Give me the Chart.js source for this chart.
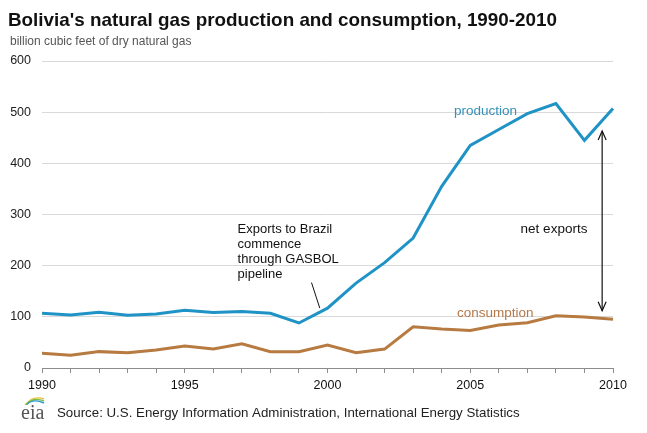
<!DOCTYPE html>
<html>
<head>
<meta charset="utf-8">
<script src="https://cdn.jsdelivr.net/npm/chart.js@4.4.1/dist/chart.umd.min.js"></script>
<style>
  html, body { margin: 0; padding: 0; background: #fff; }
  #wrap { width: 647px; height: 433px; position: relative; }
</style>
</head>
<body>
<div id="wrap"><canvas id="gasChart"></canvas></div>
<script>
// Chart data
const years = [1990, 1991, 1992, 1993, 1994, 1995, 1996, 1997, 1998, 1999, 2000,
               2001, 2002, 2003, 2004, 2005, 2006, 2007, 2008, 2009, 2010];
const production = [107, 103.5, 109, 103, 105.5, 113, 108.5, 110.5, 107, 88, 117,
                    166, 206, 254, 355, 435, 466, 497, 517, 445, 507];
const consumption = [29, 25, 32, 30, 35, 43, 37, 47.5, 32, 32, 45,
                     30, 37, 80.5, 76, 73.5, 84, 88.5, 102, 99.5, 95.5];
const yTicks = [0, 100, 200, 300, 400, 500, 600];

const FONT = '"Liberation Sans", Arial, sans-serif';

// pixel for a fractional year, through the category scale
function xAt(scale, year) {
    const i = year - years[0];
    const a = Math.floor(i), b = Math.min(a + 1, years.length - 1);
    const pa = scale.getPixelForValue(a), pb = scale.getPixelForValue(b);
    return pa + (pb - pa) * (i - a);
}

function arrowHead(ctx, x, y, dir) {
    ctx.beginPath();
    ctx.moveTo(x - 4, y + dir * 9);
    ctx.lineTo(x, y);
    ctx.lineTo(x + 4, y + dir * 9);
    ctx.stroke();
}

const annotations = {
    id: 'annotations',
    afterDraw(chart) {
        const ctx = chart.ctx;
        const xs = chart.scales.x, ys = chart.scales.y;
        ctx.save();

        // title + subtitle
        ctx.textBaseline = 'alphabetic';
        ctx.textAlign = 'left';
        ctx.fillStyle = '#111';
        ctx.font = 'bold 19px ' + FONT;
        const title = "Bolivia's natural gas production and consumption, 1990-2010";
        const w = ctx.measureText(title).width;
        ctx.save();
        ctx.translate(8, 26);
        ctx.scale(Math.min(1, 549 / w), 1);
        ctx.fillText(title, 0, 0);
        ctx.restore();
        ctx.fillStyle = '#555';
        ctx.font = '12px ' + FONT;
        ctx.fillText('billion cubic feet of dry natural gas', 10, 45);

        // series labels
        ctx.font = '13.5px ' + FONT;
        ctx.textBaseline = 'middle';
        ctx.fillStyle = '#3690b8';
        ctx.fillText('production', 454, 111);
        ctx.fillStyle = '#b5794a';
        ctx.fillText('consumption', 457, 313);

        // exports note
        ctx.fillStyle = '#111';
        ctx.font = '13px ' + FONT;
        const noteX = xAt(xs, 1996.85);
        const noteY = ys.getPixelForValue(270);
        ['Exports to Brazil', 'commence', 'through GASBOL', 'pipeline'].forEach((t, i) => {
            ctx.fillText(t, noteX, noteY + i * 15);
        });
        ctx.strokeStyle = '#111';
        ctx.lineWidth = 1;
        ctx.beginPath();
        ctx.moveTo(xAt(xs, 1999.44), ys.getPixelForValue(167));
        ctx.lineTo(xAt(xs, 1999.73), ys.getPixelForValue(117));
        ctx.stroke();

        // net exports arrow
        const ax = xAt(xs, 2009.62);
        const top = ys.getPixelForValue(463), bot = ys.getPixelForValue(112);
        ctx.lineWidth = 1.2;
        ctx.beginPath();
        ctx.moveTo(ax, top);
        ctx.lineTo(ax, bot);
        ctx.stroke();
        arrowHead(ctx, ax, top, 1);
        arrowHead(ctx, ax, bot, -1);
        ctx.textAlign = 'center';
        ctx.font = '13.5px ' + FONT;
        ctx.fillText('net exports', 554, 229);

        // source line with eia mark
        ctx.textAlign = 'left';
        ctx.font = '13.3px ' + FONT;
        ctx.fillStyle = '#222';
        ctx.fillText('Source: U.S. Energy Information Administration, International Energy Statistics', 57, 413);
        ctx.font = '20px "Liberation Serif", "DejaVu Serif", serif';
        ctx.fillStyle = '#555';
        ctx.textBaseline = 'alphabetic';
        ctx.fillText('eia', 21, 419);
        const arcs = ['#e8c33a', '#7cbf4a', '#2a9ad0'];
        ctx.lineWidth = 1.4;
        arcs.forEach((c, i) => {
            ctx.strokeStyle = c;
            ctx.beginPath();
            ctx.moveTo(25 + i, 405 - i * 0.3);
            ctx.quadraticCurveTo(33, 395 + i * 1.6, 44, 399 + i * 2);
            ctx.stroke();
        });

        ctx.restore();
    }
};

const ctx = document.getElementById('gasChart');
new Chart(ctx, {
    type: 'line',
    data: {
        labels: years,
        datasets: [{
            label: 'production',
            data: production,
            borderColor: '#1f93c5',
            borderWidth: 3,
            pointRadius: 0,
            tension: 0
        }, {
            label: 'consumption',
            data: consumption,
            borderColor: '#b77a40',
            borderWidth: 3,
            pointRadius: 0,
            tension: 0
        }]
    },
    options: {
        responsive: true,
        maintainAspectRatio: false,
        animation: false,
        devicePixelRatio: 1,
        layout: { padding: { top: 61, right: 34, bottom: 40, left: 0 } },
        plugins: {
            legend: { display: false },
            tooltip: { enabled: false }
        },
        scales: {
            x: {
                offset: false,
                grid: {
                    drawOnChartArea: false,
                    drawTicks: true,
                    tickLength: 5,
                    color: '#8c8c8c'
                },
                border: { display: true, color: '#8c8c8c', width: 1 },
                ticks: {
                    autoSkip: false,
                    maxRotation: 0,
                    padding: 5,
                    color: '#111',
                    font: { family: FONT, size: 12.5 },
                    callback: function(value) {
                        const y = years[value];
                        return y % 5 === 0 ? String(y) : '';
                    }
                },
                afterFit: function(scale) { scale.height = 25; }
            },
            y: {
                min: yTicks[0],
                max: yTicks[yTicks.length - 1],
                afterBuildTicks: function(scale) {
                    scale.ticks = yTicks.map(v => ({ value: v }));
                },
                grid: { color: '#d9d9d9', drawTicks: false, lineWidth: 1 },
                border: { display: false },
                ticks: {
                    padding: 11,
                    color: '#222',
                    font: { family: FONT, size: 12.5 }
                },
                afterFit: function(scale) { scale.width = 42; }
            }
        }
    },
    plugins: [annotations]
});
</script>
</body>
</html>
